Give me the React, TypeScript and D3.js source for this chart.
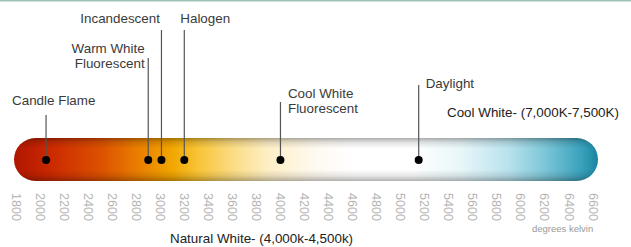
import { useEffect, useRef } from "react";
import * as d3 from "d3";

// Datos
const escalaKelvin = [1800, 2000, 2200, 2400, 2600, 2800, 3000, 3200, 3400, 3600, 3800, 4000, 4200, 4400, 4600, 4800, 5000, 5200, 5400, 5600, 5800, 6000, 6200, 6400, 6600];
const fuentes = ["Candle Flame", "Warm White\nFluorescent", "Incandescent", "Halogen", "Cool White\nFluorescent", "Daylight"];
const kelvinFuente = [2050, 2900, 3010, 3200, 4000, 5150];
const coloresKelvin = [1780, 2100, 2500, 2800, 3100, 3300, 3600, 3900, 4300, 4600, 5100, 5500, 5900, 6200, 6500, 6650];
const coloresTubo = ["#b01600", "#cc2a00", "#dc5000", "#e97c00", "#f2a600", "#f8c232", "#fbdc84", "#fdefc6", "#fffaf1", "#ffffff", "#ffffff", "#e8f6fa", "#b8e2ec", "#7cc6d8", "#3aa2bc", "#1a84a0"];

// Disposición de etiquetas (desplazamiento respecto al punto)
const etiquetas = [
  { dx: -34, ancla: "start", base: 105, topeLinea: 115 },
  { dx: -3.5, ancla: "end", base: 53, topeLinea: 58 },
  { dx: -1.5, ancla: "end", base: 23, topeLinea: 30 },
  { dx: -4, ancla: "start", base: 23, topeLinea: 30 },
  { dx: 7.5, ancla: "start", base: 98, topeLinea: 102 },
  { dx: 7, ancla: "start", base: 88, topeLinea: 85 },
];

export default function App() {
  const svgRef = useRef<SVGSVGElement>(null);
  const ANCHO = 631;
  const ALTO = 247;

  useEffect(() => {
    if (!svgRef.current) return;
    const svg = d3.select(svgRef.current);
    svg.selectAll("*").remove();

    const fuente = "'Liberation Sans', Arial, sans-serif";
    const x = d3.scaleLinear().domain([1800, 6600]).range([16, 593]);

    const tuboY = 138;
    const tuboAlto = 43;
    const tuboX0 = x(1800) - 2;
    const tuboX1 = x(6600) + 5;
    const centroY = tuboY + tuboAlto / 2 + 0.5;

    // Línea superior
    svg.append("rect").attr("x", 0).attr("y", 0).attr("width", ANCHO).attr("height", 1.5).attr("fill", "#9fc2b4");

    const defs = svg.append("defs");
    const grad = defs
      .append("linearGradient")
      .attr("id", "gradTubo")
      .attr("gradientUnits", "userSpaceOnUse")
      .attr("x1", tuboX0)
      .attr("x2", tuboX1)
      .attr("y1", 0)
      .attr("y2", 0);
    grad
      .selectAll("stop")
      .data(coloresKelvin)
      .enter()
      .append("stop")
      .attr("offset", (k) => Math.max(0, Math.min(1, (x(k) - tuboX0) / (tuboX1 - tuboX0))))
      .attr("stop-color", (_, i) => coloresTubo[i]);

    const sombra = defs.append("linearGradient").attr("id", "sombraTubo").attr("x1", 0).attr("x2", 0).attr("y1", 0).attr("y2", 1);
    [
      [0, 0.32],
      [0.1, 0.12],
      [0.24, 0],
      [0.74, 0],
      [0.88, 0.1],
      [1, 0.3],
    ].forEach(([o, a]) => sombra.append("stop").attr("offset", o).attr("stop-color", "#000").attr("stop-opacity", a));

    svg
      .append("rect")
      .attr("x", tuboX0)
      .attr("y", tuboY)
      .attr("width", tuboX1 - tuboX0)
      .attr("height", tuboAlto)
      .attr("rx", tuboAlto / 2)
      .attr("fill", "url(#gradTubo)");
    svg
      .append("rect")
      .attr("x", tuboX0)
      .attr("y", tuboY)
      .attr("width", tuboX1 - tuboX0)
      .attr("height", tuboAlto)
      .attr("rx", tuboAlto / 2)
      .attr("fill", "url(#sombraTubo)");

    // Etiquetas de la escala
    svg
      .append("g")
      .selectAll("text")
      .data(escalaKelvin)
      .enter()
      .append("text")
      .attr("transform", (d) => `translate(${x(d)},193) rotate(90)`)
      .attr("dy", "0.35em")
      .attr("text-anchor", "start")
      .attr("fill", "#b4b4b4")
      .attr("font-family", fuente)
      .attr("font-size", 12.6)
      .text((d) => String(d));

    // Fuentes de luz
    const g = svg
      .selectAll("g.fuente")
      .data(fuentes)
      .enter()
      .append("g")
      .attr("class", "fuente");

    g.append("line")
      .attr("x1", (_, i) => x(kelvinFuente[i]))
      .attr("x2", (_, i) => x(kelvinFuente[i]))
      .attr("y1", (_, i) => etiquetas[i].topeLinea)
      .attr("y2", centroY)
      .attr("stroke", "#555")
      .attr("stroke-width", 1.2);

    g.append("circle")
      .attr("cx", (_, i) => x(kelvinFuente[i]))
      .attr("cy", centroY)
      .attr("r", 4)
      .attr("fill", "#000");

    g.each(function (d, i) {
      const e = etiquetas[i];
      const t = d3
        .select(this)
        .append("text")
        .attr("fill", "#3a3a3a")
        .attr("font-family", fuente)
        .attr("font-size", 13.4)
        .attr("text-anchor", e.ancla);
      d.split("\n").forEach((linea, j) => {
        t.append("tspan")
          .attr("x", x(kelvinFuente[i]) + e.dx)
          .attr("y", e.base + j * 15)
          .text(linea);
      });
    });

    svg
      .append("text")
      .attr("x", 447)
      .attr("y", 117)
      .attr("fill", "#222")
      .attr("font-family", fuente)
      .attr("font-size", 13.4)
      .text("Cool White- (7,000K-7,500K)");

    svg
      .append("text")
      .attr("x", 170)
      .attr("y", 243)
      .attr("fill", "#222")
      .attr("font-family", fuente)
      .attr("font-size", 13.4)
      .text("Natural White- (4,000k-4,500k)");

    svg
      .append("text")
      .attr("x", 532)
      .attr("y", 232)
      .attr("fill", "#9a9a9a")
      .attr("font-family", fuente)
      .attr("font-size", 9.5)
      .text("degrees kelvin");
  }, []);

  return (
    <svg
      ref={svgRef}
      width={ANCHO}
      height={ALTO}
      viewBox={`0 0 ${ANCHO} ${ALTO}`}
      style={{ position: "absolute", left: 0, top: 0, display: "block", background: "#fff" }}
    />
  );
}
